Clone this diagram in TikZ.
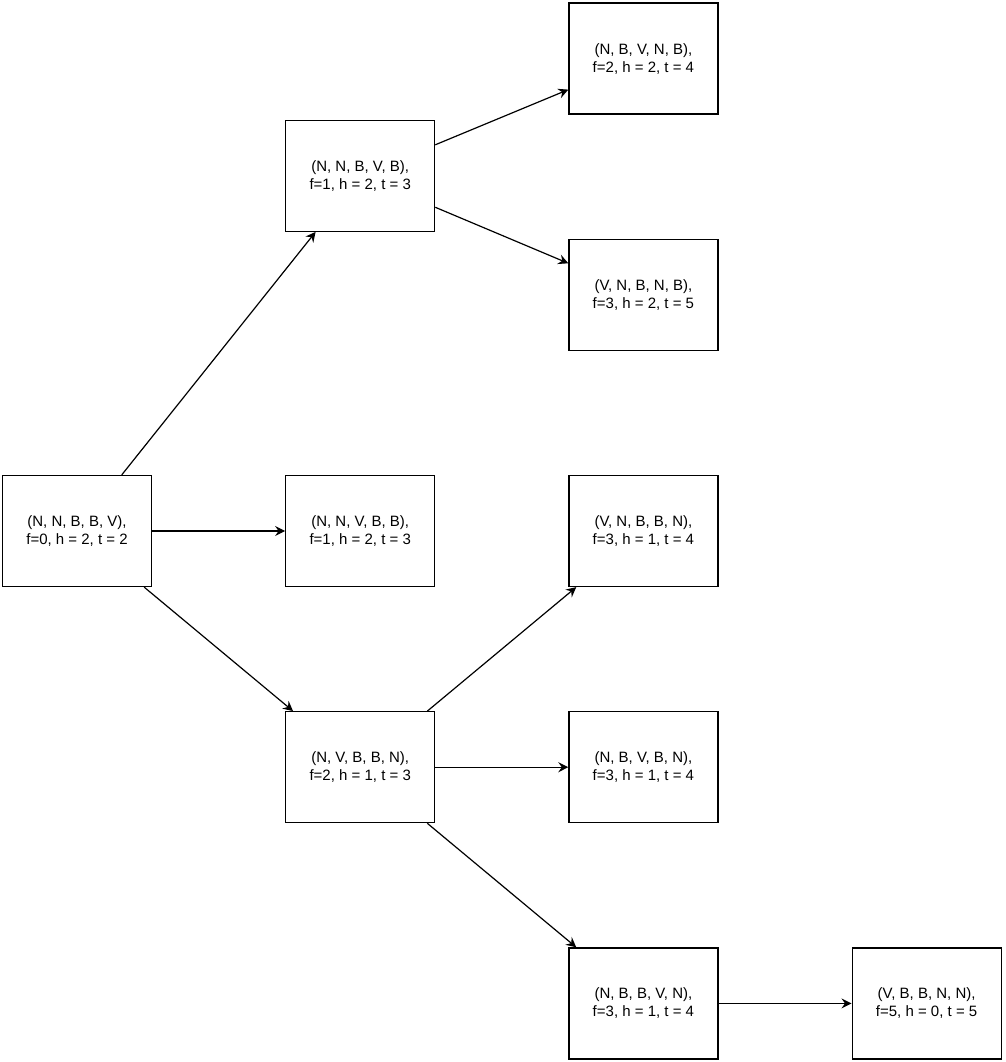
\documentclass[tikz,border=0pt]{standalone}
\usepackage{fontspec}
\setsansfont{Liberation Sans}
\usetikzlibrary{shapes.geometric,arrows.meta}
\usetikzlibrary{positioning}

\begin{document}
\begin{tikzpicture}[node distance = 133pt, auto, >={Stealth[length=10pt,width=10pt,inset=3.5pt]}, line width=1.2pt,
	etat/.style={draw, rectangle, minimum width=149pt, minimum height=111pt,
		align=center, font=\fontsize{15}{18}\selectfont}]
			\sffamily
			\useasboundingbox (0,0) rectangle (1005pt,-1062pt);
			\node[etat] (Start) at (77pt,-531pt) {(N, N, B, B, V),\\f=0, h = 2, t = 2};
			\node[etat, right=of Start] (Mid) {(N, N, V, B, B),\\f=1, h = 2, t = 3};
			\node[etat, above=243pt of Mid] (Up) {(N, N, B, V, B),\\f=1, h = 2, t = 3};
			\node[etat, below=124pt of Mid] (Down) {(N, V, B, B, N),\\f=2, h = 1, t = 3};
			\node[etat, right=of Mid] (DownA) {(V, N, B, B, N),\\f=3, h = 1, t = 4};
			\node[etat, above=124pt of DownA] (UpB) {(V, N, B, N, B),\\f=3, h = 2, t = 5};
			\node[etat, above=124pt of UpB] (UpA) {(N, B, V, N, B),\\f=2, h = 2, t = 4};
			\node[etat, right=of Down] (DownB) {(N, B, V, B, N),\\f=3, h = 1, t = 4};
			\node[etat, below=124pt of DownB] (DownC) {(N, B, B, V, N),\\f=3, h = 1, t = 4};
			\node[etat, right=of DownC] (Goal) {(V, B, B, N, N),\\f=5, h = 0, t = 5};
			\draw[->] (Start) -- (Up);
			\draw[->] (Start) -- (Mid);
			\draw[->] (Start) -- (Down);
			\draw[->] (Up) -- (UpA);
			\draw[->] (Up) -- (UpB);
			\draw[->] (Down) -- (DownA);
			\draw[->] (Down) -- (DownB);
			\draw[->] (Down) -- (DownC);
			\draw[->] (DownC) -- (Goal);
		\end{tikzpicture}
\end{document}
